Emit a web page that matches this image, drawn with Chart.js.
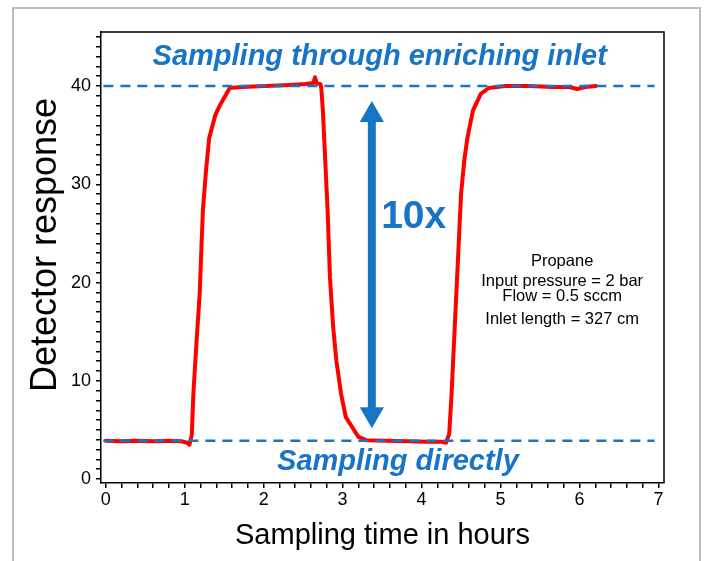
<!DOCTYPE html>
<html lang="en">
<head>
  <meta charset="UTF-8">
  <title>Detector response vs sampling time</title>
  <script src="https://cdn.jsdelivr.net/npm/chart.js"></script>
  <style>
    body { margin: 0; background: #fff; }
    #grafico { display: block; }
  </style>
</head>
<body>
  <canvas id="grafico" width="708" height="561"></canvas>

  <script>
    // red trace
    const timeHours = [0, 0.2, 0.4, 0.61, 0.81, 0.96, 1.03, 1.06, 1.09, 1.11, 1.15, 1.19, 1.23, 1.27, 1.31, 1.39, 1.45, 1.57,
      1.72, 2.02, 2.33, 2.53, 2.63, 2.65, 2.67, 2.72, 2.73, 2.75, 2.77, 2.81, 2.84, 2.88, 2.92, 2.98, 3.04, 3.12, 3.20, 3.30,
      3.54, 3.84, 4.05, 4.25, 4.31, 4.35, 4.38, 4.42, 4.46, 4.50, 4.54, 4.58, 4.65, 4.75, 4.85,
      5.06, 5.36, 5.66, 5.87, 5.97, 6.07, 6.21];
    const response = [3.9, 3.85, 3.9, 3.85, 3.9, 3.85, 3.7, 3.5, 4.5, 8.7, 14.0, 18.9, 27.3, 31.4, 34.7, 37.1, 38.1, 39.8,
      39.9, 40.0, 40.1, 40.2, 40.3, 40.9, 40.3, 40.2, 39.8, 37.5, 34.1, 27.3, 20.5, 15.5, 12.1, 8.7, 6.3, 5.3, 4.3, 3.96,
      3.9, 3.85, 3.8, 3.8, 3.7, 4.6, 8.7, 15.5, 22.2, 29.0, 32.4, 34.7, 37.5, 39.2, 39.8,
      40.0, 40.0, 39.9, 39.9, 39.7, 39.9, 40.0];

    // dashed reference levels
    const levelHigh = 40;
    const levelLow = 3.9;
    const levelSpan = [-0.03, 6.95];

    // double arrow "10x"
    const arrowX = 3.37;
    const arrowEnds = [37.06, 6.6];

    const yTickValues = Array.from({ length: 46 }, (_, i) => i);      // 0..45
    const xTickValues = Array.from({ length: 36 }, (_, i) => i / 5);  // 0..7 step 0.2

    const BLUE = '#1874c6';
    const FONT = '"Liberation Sans", Arial, sans-serif';

    const extras = {
      id: 'extras',
      beforeDraw(chart) {
        const c = chart.ctx;
        c.save();
        c.strokeStyle = '#bdbdbd';
        c.lineWidth = 2;
        c.strokeRect(13, 8, 687, 600);
        c.restore();
      },
      afterDraw(chart) {
        const c = chart.ctx, a = chart.chartArea;
        const x = chart.scales.x, y = chart.scales.y;
        c.save();
        // top and right frame
        c.strokeStyle = '#000';
        c.lineWidth = 1.5;
        c.beginPath();
        c.moveTo(a.left, a.top); c.lineTo(a.right, a.top); c.lineTo(a.right, a.bottom);
        c.stroke();

        c.textAlign = 'center';
        c.textBaseline = 'middle';
        c.fillStyle = BLUE;
        c.font = 'italic bold 29px ' + FONT;
        c.fillText('Sampling through enriching inlet', x.getPixelForValue(3.47), y.getPixelForValue(43.0));
        c.fillText('Sampling directly', x.getPixelForValue(3.70), y.getPixelForValue(1.7));
        c.font = 'bold 39px ' + FONT;
        c.fillText('10x', x.getPixelForValue(3.90), y.getPixelForValue(26.65));

        c.fillStyle = '#000';
        c.font = '16.5px ' + FONT;
        const bx = x.getPixelForValue(5.78);
        c.fillText('Propane', bx, y.getPixelForValue(22.1));
        c.fillText('Input pressure = 2 bar', bx, y.getPixelForValue(20.1));
        c.fillText('Flow = 0.5 sccm', bx, y.getPixelForValue(18.55));
        c.fillText('Inlet length = 327 cm', bx, y.getPixelForValue(16.25));

        // axis titles
        c.font = '29px ' + FONT;
        c.fillText('Sampling time in hours', (a.left + a.right) / 2, 536);
        c.save();
        c.translate(46, 245);
        c.rotate(-Math.PI / 2);
        c.font = '36px ' + FONT;
        c.fillText('Detector response', 0, 0);
        c.restore();
        c.restore();
      }
    };

    const ctx = document.getElementById('grafico').getContext('2d');
    const chart = new Chart(ctx, {
      type: 'line',
      data: {
        datasets: [
          {
            data: levelSpan.map(t => ({ x: t, y: levelHigh })),
            borderColor: BLUE, borderWidth: 2.5, borderDash: [10, 7], pointRadius: 0
          },
          {
            data: levelSpan.map(t => ({ x: t, y: levelLow })),
            borderColor: BLUE, borderWidth: 2.5, borderDash: [10, 7], pointRadius: 0
          },
          {
            data: timeHours.map((t, i) => ({ x: t, y: response[i] })),
            borderColor: '#ff0000', borderWidth: 4, pointRadius: 0,
            borderJoinStyle: 'round', borderCapStyle: 'round', tension: 0
          },
          {
            data: arrowEnds.map(v => ({ x: arrowX, y: v })),
            borderColor: BLUE, borderWidth: 8,
            pointStyle: 'triangle', pointRadius: 14, pointRotation: [0, 180],
            pointBackgroundColor: BLUE, pointBorderColor: BLUE, pointBorderWidth: 0
          }
        ]
      },
      options: {
        responsive: false,
        devicePixelRatio: 1,
        animation: false,
        layout: { padding: { top: 32, right: 44, left: 0, bottom: 0 } },
        plugins: { legend: { display: false }, tooltip: { enabled: false } },
        scales: {
          x: {
            type: 'linear', min: -0.06, max: 7.07,
            afterFit: s => { s.height = 78; },
            afterBuildTicks: s => { s.ticks = xTickValues.map(v => ({ value: v })); },
            grid: { drawOnChartArea: false, tickLength: 5, color: '#000', lineWidth: 1.5 },
            border: { color: '#000', width: 1.5 },
            ticks: {
              autoSkip: false, maxRotation: 0, padding: 1, color: '#000',
              font: { family: FONT, size: 18 },
              callback: v => Math.abs(v - Math.round(v)) < 1e-6 ? Math.round(v) : ''
            }
          },
          y: {
            type: 'linear', min: -0.4, max: 45.5,
            afterFit: s => { s.width = 101; },
            afterBuildTicks: s => { s.ticks = yTickValues.map(v => ({ value: v })); },
            grid: { drawOnChartArea: false, tickLength: 5, color: '#000', lineWidth: 1.5 },
            border: { color: '#000', width: 1.5 },
            ticks: {
              autoSkip: false, padding: 5, color: '#000',
              font: { family: FONT, size: 18 },
              callback: v => v % 10 === 0 ? v : ''
            }
          }
        }
      },
      plugins: [extras]
    });
  </script>
</body>
</html>
